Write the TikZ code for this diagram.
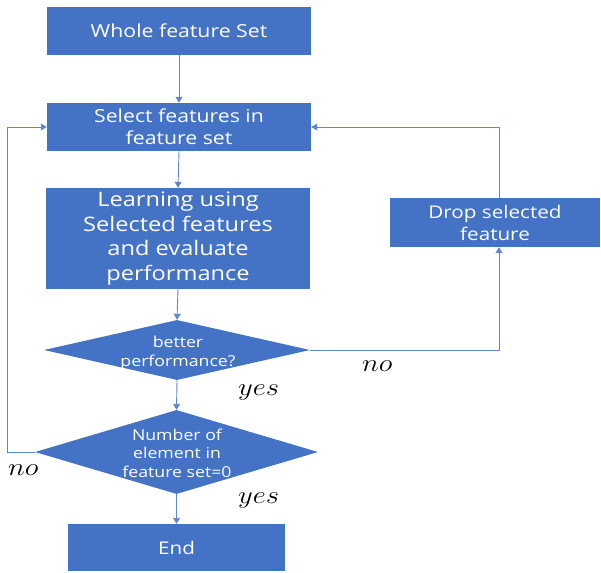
\documentclass[tikz,border=0pt]{standalone}
\usepackage{fontspec}
\setmainfont{Open Sans}[FakeStretch=1.18]
\usetikzlibrary{arrows.meta,shapes.geometric}
\definecolor{boxblue}{HTML}{4472C4}
\definecolor{lineblue}{HTML}{5F87CF}
\begin{document}
\begin{tikzpicture}[x=1pt,y=-1pt,
  box/.style={rectangle, fill=boxblue, text=white, inner sep=0pt, align=center},
  dia/.style={diamond, fill=boxblue, inner sep=0pt},
  diatext/.style={text=white, inner sep=0pt, align=center},
  conn/.style={draw=lineblue, line width=0.9pt, -{Triangle[width=7pt,length=6pt]}},
  lbl/.style={inner sep=0pt, anchor=base west, font=\fontsize{23}{23}\selectfont}
]
\useasboundingbox (0,0) rectangle (601,572);

\node[box, minimum width=264pt, minimum height=48pt, font=\fontsize{18}{22}\selectfont] (whole) at (179,31) {Whole feature Set};
\node[box, minimum width=264pt, minimum height=48pt, font=\fontsize{18}{22}\selectfont] (select) at (179,127) {Select features in\\feature set};
\node[box, minimum width=264pt, minimum height=101pt, font=\fontsize{20}{24.5}\selectfont] (learn) at (178,238.5) {Learning using\\Selected features\\and evaluate\\performance};
\node[dia, minimum width=266pt, minimum height=60pt] (d1) at (177,350) {};
\node[diatext, font=\fontsize{15}{19}\selectfont] (d1t) at (178,353) {better\\performance?};
\node[dia, minimum width=283pt, minimum height=84pt] (d2) at (176.5,452) {};
\node[diatext, font=\fontsize{15}{18.5}\selectfont] (d2t) at (177,453) {Number of\\element in\\feature set=0};
\node[box, minimum width=217pt, minimum height=47pt, font=\fontsize{17.5}{21}\selectfont] (end) at (176.5,547.5) {End};
\node[box, minimum width=210pt, minimum height=49pt, font=\fontsize{17.5}{22}\selectfont] (drop) at (495,222.5) {Drop selected\\feature};

\coordinate (leftc) at (7,452);

\draw[conn] (whole.south) -- (select.north);
\draw[conn] (select.south) -- (learn.north);
\draw[conn] (learn.south) -- (d1.north);
\draw[conn] (d1.south) -- (d2.north);
\draw[conn] (d2.south) -- (end.north);
\draw[conn] (d1.east) -| ([xshift=4pt]drop.south);
\draw[conn] ([xshift=4pt]drop.north) |- (select.east);
\draw[conn] (d2.west) -- (leftc) |- (select.west);

\node[lbl] (yes1) at (238,395) {\scalebox{1.15}[1]{$yes$}};
\node[lbl] (yes2) at (238,503) {\scalebox{1.15}[1]{$yes$}};
\node[lbl] (no1) at (362,371) {\scalebox{1.15}[1]{$no$}};
\node[lbl] (no2) at (8,475) {\scalebox{1.15}[1]{$no$}};
\end{tikzpicture}
\end{document}
